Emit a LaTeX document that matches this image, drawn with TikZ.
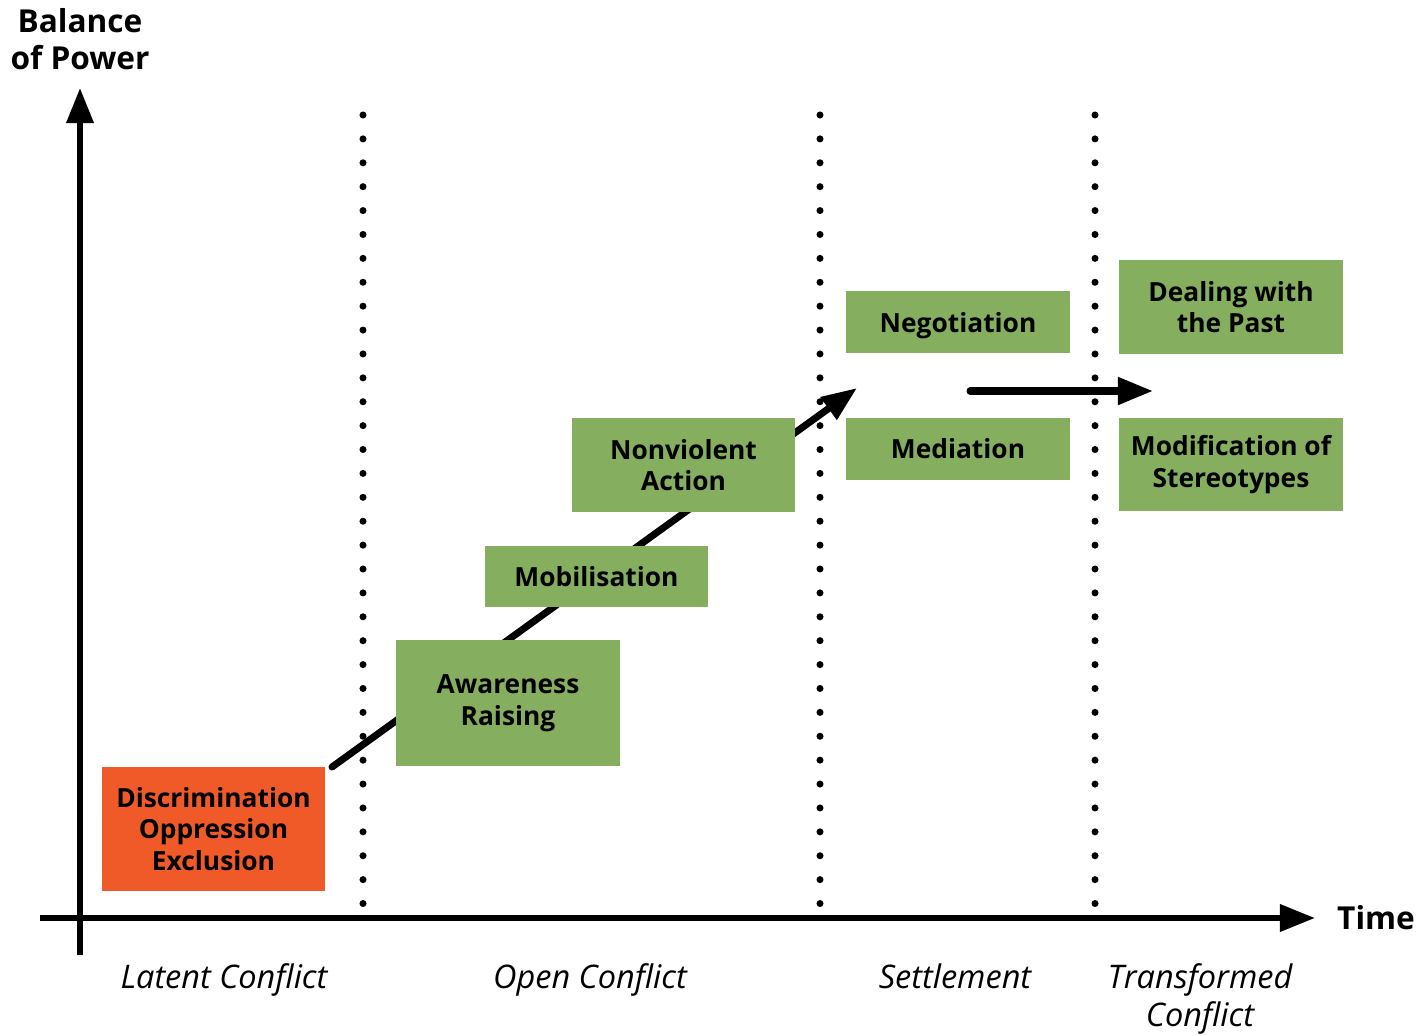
\documentclass[tikz,border=0pt]{standalone}
\usepackage{fontspec}
\setmainfont{Open Sans}
\usetikzlibrary{arrows.meta}
\definecolor{boxgreen}{RGB}{133,175,95}
\definecolor{boxorange}{RGB}{240,90,40}
\tikzset{
  stagebox/.style={fill=boxgreen,minimum width=4.48cm,align=center,inner sep=0pt,
    font=\fontsize{15}{18}\selectfont\bfseries},
  axis/.style={line width=3.4pt,-{Triangle[length=20pt,width=15pt]}},
  phase/.style={line width=4pt,line cap=round,dash pattern=on 0pt off 13.6pt},
  phasename/.style={font=\fontsize{18.5}{21.5}\selectfont\itshape,align=center,anchor=base},
  bigarrow/.style={line width=4pt,line cap=round,-{Triangle[length=20pt,width=15pt]}}
}
\begin{document}
\begin{tikzpicture}[x=0.02cm,y=-0.02cm]
  \useasboundingbox (0,0) rectangle (1419,1035);
  \coordinate (o1) at (80,955);
  \coordinate (o2) at (80,88);
  \coordinate (t1) at (40,918);
  \coordinate (t2) at (1315,918);
  \draw[axis] (o1) -- (o2);
  \draw[axis] (t1) -- (t2);
  \node[font=\fontsize{18}{21}\selectfont\bfseries,align=center] (power) at (80,39) {Balance\\of Power};
  \node[font=\fontsize{18}{21}\selectfont\bfseries,anchor=west] (time) at (1331,918) {Time};
  \coordinate (d1a) at (363,115);
  \coordinate (d1b) at (363,910);
  \coordinate (d2a) at (820,115);
  \coordinate (d2b) at (820,910);
  \coordinate (d3a) at (1095,115);
  \coordinate (d3b) at (1095,910);
  \draw[phase] (d1a) -- (d1b);
  \draw[phase] (d2a) -- (d2b);
  \draw[phase] (d3a) -- (d3b);
  \coordinate (s1) at (332,767);
  \coordinate (s2) at (857,388);
  \coordinate (h1) at (970,391);
  \coordinate (h2) at (1153,391);
  \draw[bigarrow] (s1) -- (s2);
  \draw[bigarrow] (h1) -- (h2);
  \node[stagebox,fill=boxorange,minimum height=2.48cm] (discr) at (213.5,829) {Discrimination\\Oppression\\Exclusion};
  \node[stagebox,minimum height=2.52cm] (aware) at (508,703) {Awareness\\Raising};
  \node[stagebox,minimum height=1.22cm] (mobil) at (596.5,576.5) {Mobilisation};
  \node[stagebox,minimum height=1.88cm] (nonvi) at (683.5,465) {Nonviolent\\Action};
  \node[stagebox,minimum height=1.24cm,text depth=0pt] (negot) at (958,322) {Negotiation};
  \node[stagebox,minimum height=1.24cm] (media) at (958,449) {Mediation};
  \node[stagebox,minimum height=1.88cm] (deal) at (1231,307) {Dealing with\\the Past};
  \node[stagebox,minimum height=1.86cm] (modif) at (1231,464.5) {Modification of\\Stereotypes};
  \node[phasename] (latent) at (224,988) {Latent Conflict};
  \node[phasename] (open) at (590,988) {Open Conflict};
  \node[phasename] (settle) at (955,988) {Settlement};
  \node[phasename] (trans) at (1200,1026) {Transformed\\Conflict};
\end{tikzpicture}
\end{document}
